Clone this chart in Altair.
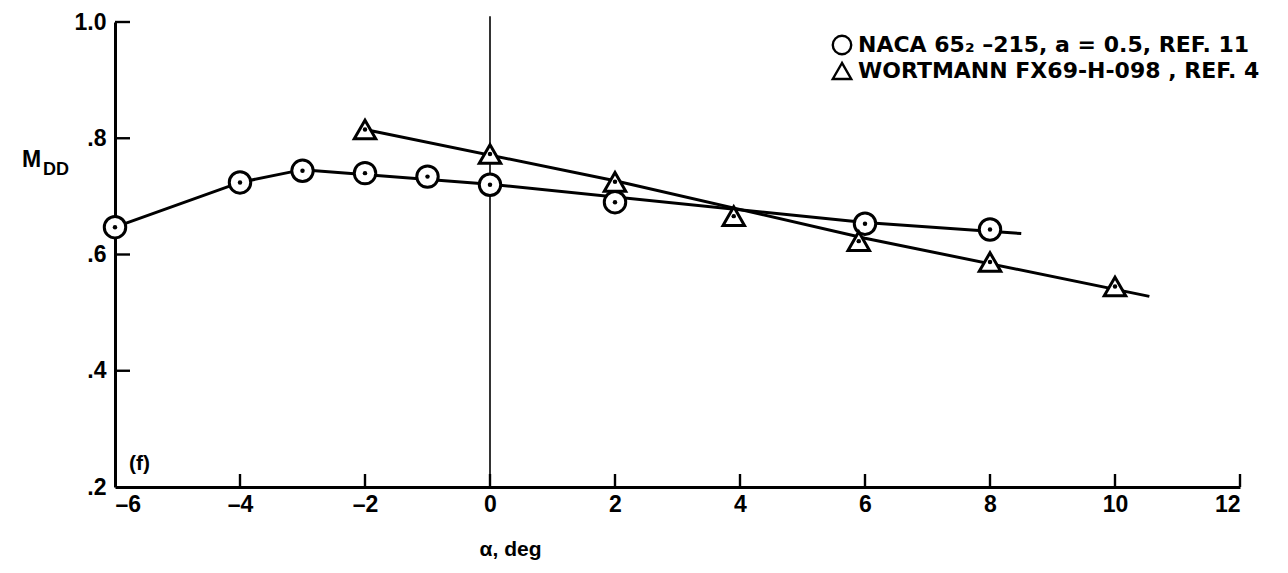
import altair as alt
import pandas as pd

# ---- data ----
naca_alpha = [-6, -4, -3, -2, -1, 0, 2, 6, 8]
naca_mdd = [0.647, 0.724, 0.744, 0.740, 0.734, 0.720, 0.690, 0.653, 0.643]
wort_alpha = [-2, 0, 2, 3.9, 5.9, 8, 10]
wort_mdd = [0.815, 0.773, 0.725, 0.666, 0.623, 0.587, 0.545]
naca_fair_alpha = [-6, -4, -3, 0, 6, 8.5]
naca_fair_mdd = [0.647, 0.724, 0.746, 0.721, 0.655, 0.636]
wort_fair_alpha = [-2, 2, 6, 10.55]
wort_fair_mdd = [0.815, 0.727, 0.628, 0.528]
x_ticks = [-6, -4, -2, 0, 2, 4, 6, 8, 10, 12]
y_ticks = [0.2, 0.4, 0.6, 0.8, 1.0]
series_labels = ["NACA 65\u2082 \u2013215, a = 0.5, REF. 11", "WORTMANN FX69-H-098 , REF. 4"]
series_shapes = ["circle", "triangle-up"]

FONT = "Liberation Sans"
LFONT = "DejaVu Sans"
W, H = 1125, 465

pts = pd.concat([
    pd.DataFrame({"alpha": naca_alpha, "mdd": naca_mdd, "series": series_labels[0]}),
    pd.DataFrame({"alpha": wort_alpha, "mdd": wort_mdd, "series": series_labels[1]}),
], ignore_index=True)

fair = pd.concat([
    pd.DataFrame({"alpha": naca_fair_alpha, "mdd": naca_fair_mdd, "series": series_labels[0],
                  "k": range(len(naca_fair_alpha))}),
    pd.DataFrame({"alpha": wort_fair_alpha, "mdd": wort_fair_mdd, "series": series_labels[1],
                  "k": range(len(wort_fair_alpha))}),
], ignore_index=True)

xs = alt.Scale(domain=[-6, 12], nice=False, zero=False)
ys = alt.Scale(domain=[0.2, 1.0], nice=False, zero=False)
shape_scale = alt.Scale(domain=series_labels, range=series_shapes)

x_axis = alt.Axis(
    values=x_ticks, grid=False, ticks=False,
    labelExpr="datum.value < 0 ? '\u2013' + abs(datum.value) : '' + datum.value",
    labelFont=FONT, labelFontSize=23, labelFontWeight="bold", labelColor="black",
    labelPadding=6, domainColor="black", domainWidth=3,
    title="\u03b1, deg", titleFont=FONT, titleFontSize=21, titleFontWeight="bold",
    titleColor="black", titleX=395, titleY=68, titleAlign="center", titleBaseline="alphabetic",
)
y_axis = alt.Axis(
    values=y_ticks, grid=False, ticks=False,
    labelExpr="datum.value > 0.99 ? '1.0' : '.' + round(datum.value * 10)",
    labelFont=FONT, labelFontSize=23, labelFontWeight="bold", labelColor="black",
    labelPadding=9, domainColor="black", domainWidth=3, title="",
)

X = alt.X("alpha:Q", scale=xs, axis=x_axis)
Y = alt.Y("mdd:Q", scale=ys, axis=y_axis)

lines = alt.Chart(fair).mark_line(color="black", strokeWidth=3).encode(
    x=X, y=Y, detail="series:N", order="k:Q")

markers = alt.Chart(pts).mark_point(
    filled=True, fill="white", stroke="black", strokeWidth=3, size=460, opacity=1
).encode(
    x=X, y=Y,
    shape=alt.Shape("series:N", scale=shape_scale, legend=None),
)

dots = alt.Chart(pts).mark_point(filled=True, color="black", size=20, shape="circle", opacity=1).encode(
    x=X, y=Y)

zero_line = alt.Chart(pd.DataFrame({"alpha": [0], "top": [1.01], "bot": [0.2]})).mark_rule(
    color="black", strokeWidth=1.6).encode(x=X, y=alt.Y("top:Q", scale=ys, axis=y_axis), y2="bot:Q")

xtick_df = pd.DataFrame({"alpha": x_ticks[1:]})
xticks = alt.Chart(xtick_df).mark_rule(color="black", strokeWidth=2.4).encode(
    x=X, y=alt.value(H), y2=alt.value(H - 13))

ytick_df = pd.DataFrame({"mdd": y_ticks[1:]})
yticks = alt.Chart(ytick_df).mark_rule(color="black", strokeWidth=2.4).encode(
    y=Y, x=alt.value(0), x2=alt.value(15))


def legend_row(i, ypix):
    df = pd.DataFrame({"series": [series_labels[i]]})
    sym = alt.Chart(df).mark_point(
        filled=True, fill="white", stroke="black", strokeWidth=2.4, size=340, opacity=1,
        shape=series_shapes[i],
    ).encode(x=alt.value(727), y=alt.value(ypix))
    txt = alt.Chart(df).mark_text(
        font=LFONT, fontSize=22, fontWeight="bold", align="left", baseline="middle", color="black"
    ).encode(x=alt.value(743), y=alt.value(ypix), text="series:N")
    return sym + txt


leg0 = legend_row(0, 23)
leg1 = legend_row(1, 49)

m_txt = alt.Chart(pd.DataFrame({"t": ["M"]})).mark_text(
    font=FONT, fontSize=23, fontWeight="bold", align="left", baseline="alphabetic", color="black"
).encode(text="t:N", x=alt.value(-93), y=alt.value(145))
dd_txt = alt.Chart(pd.DataFrame({"t": ["DD"]})).mark_text(
    font=FONT, fontSize=18, fontWeight="bold", align="left", baseline="alphabetic", color="black"
).encode(text="t:N", x=alt.value(-72), y=alt.value(153))
f_txt = alt.Chart(pd.DataFrame({"t": ["(f)"]})).mark_text(
    font=FONT, fontSize=21, fontWeight="bold", align="left", baseline="alphabetic", color="black"
).encode(text="t:N", x=alt.value(14), y=alt.value(448))

chart = alt.layer(
    zero_line, lines, markers, dots, xticks, yticks, leg0, leg1, m_txt, dd_txt, f_txt
).properties(
    width=W, height=H,
    padding={"left": 107, "top": 14, "right": 40, "bottom": 78},
    autosize=alt.AutoSizeParams(type="none"),
    background="white",
).configure_view(stroke=None)

chart.save("out.html", embed_options={"renderer": "svg", "actions": False})
